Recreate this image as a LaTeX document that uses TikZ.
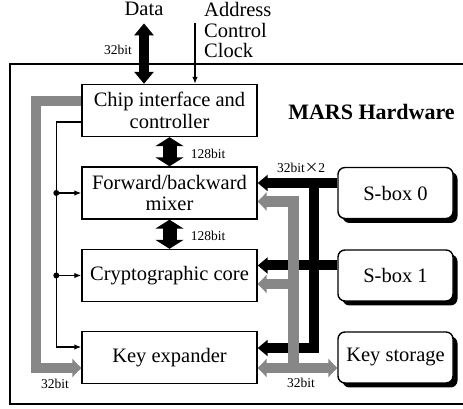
\documentclass[tikz,border=0pt]{standalone}
\usepackage{fontspec}
\setmainfont{Liberation Serif}
\newfontfamily\cjk{Noto Sans CJK JP}
\usepackage{xcolor}
\usetikzlibrary{arrows.meta,shadows}
\definecolor{gris}{gray}{0.53}

\begin{document}
\begin{tikzpicture}[x=1pt,y=1pt,
  bloque/.style={draw,line width=1.4pt,minimum width=175pt,minimum height=52pt,inner sep=0pt,align=center,font=\fontsize{20.5}{21.5}\selectfont},
  caja/.style={draw,line width=1.4pt,rounded corners=7pt,fill=white,minimum width=115pt,minimum height=51pt,inner sep=0pt,font=\fontsize{20.5}{21.5}\selectfont,
    drop shadow={shadow xshift=4.5pt,shadow yshift=-4.5pt,fill=black,opacity=1}},
  etiq/.style={font=\fontsize{13.5}{13.5}\selectfont,inner sep=0pt},
  bus/.style={line width=10pt,-{Triangle[length=10pt,width=16pt]}},
  busgris/.style={line width=10.5pt,draw=gris,-{Triangle[length=9pt,width=18pt]}},
  ancha/.style={line width=14pt,{Triangle[length=9pt,width=28pt]}-{Triangle[length=9pt,width=28pt]}},
  senal/.style={line width=1.3pt,-{Latex[length=7pt,width=5.5pt]}}]
        \useasboundingbox (0,0) rectangle (463,409);
        % marco exterior
        \draw[line width=1.4pt] (463.5,345) -| (10,5) -- (463.5,5);
        % bloques
        \node[bloque] (chip) at (169.5,298.5) {Chip interface and\\controller};
        \node[bloque] (mixer) at (169.5,216) {Forward/backward\\mixer};
        \node[bloque] (core) at (169.5,133.5) {Cryptographic core};
        \node[bloque] (keyexp) at (169.5,51.5) {Key expander};
        \node[caja] (sbox0) at (395.5,216) {S-box 0};
        \node[caja] (sbox1) at (395.5,133.5) {S-box 1};
        \node[caja] (keystore) at (395.5,51.5) {Key storage};
        \node[font=\bfseries\fontsize{22}{22}\selectfont] (titulo) at (371.5,297) {MARS Hardware};
        % entradas
        \node[anchor=base,inner sep=0pt,font=\fontsize{20.5}{20.5}\selectfont] (data) at (144,393) {Data};
        \node[anchor=north west,align=left,inner sep=0pt,font=\fontsize{20.5}{20.5}\selectfont] (ctrl) at (204,406.8) {Address\\Control\\Clock};
        \draw[line width=10pt,{Triangle[length=12pt,width=19pt]}-{Triangle[length=12pt,width=19pt]}] ([yshift=-7pt]data.south) -- (data.south |- chip.north);
        \node[etiq] (d32) at (118,359) {32bit};
        \coordinate (ent) at (195,386);
        \draw[senal] (ent) -- (ent |- chip.north);
        % buses de 128 bits
        \draw[ancha] (chip.south) -- (mixer.north);
        \node[etiq] (b1) at (208,255) {128bit};
        \draw[ancha] (mixer.south) -- (core.north);
        \node[etiq] (b2) at (208,173) {128bit};
        % lineas de control
        \draw[senal] ([yshift=-11.5pt]chip.west) -| ([xshift=-25pt,yshift=10.5pt]keyexp.west) -- ([yshift=10.5pt]keyexp.west);
        \coordinate (r1) at ([xshift=-25pt]mixer.west);
        \coordinate (r2) at ([xshift=-25pt]core.west);
        \fill (r1) circle [radius=3pt];
        \fill (r2) circle [radius=3pt];
        \draw[senal] (r1) -- (mixer.west);
        \draw[senal] (r2) -- (core.west);
        % bus negro de las S-box
        \draw[bus] ([yshift=10pt]sbox0.west) -- ([yshift=10pt]mixer.east);
        \draw[bus] ([xshift=56pt,yshift=10pt]mixer.east) |- ([yshift=9.5pt]keyexp.east);
        \draw[bus] ([yshift=10pt]sbox1.west) -- ([yshift=10pt]core.east);
        \node[etiq] (sb32) at (301,241) {32bit{\cjk ×}2};
        % bus gris de la clave
        \draw[busgris] ([yshift=9.5pt]chip.west) -| ([xshift=-45.5pt,yshift=-10.5pt]keyexp.west) -- ([yshift=-10.5pt]keyexp.west);
        \node[etiq] (k1) at (55,25) {32bit};
        \draw[busgris] ([xshift=36pt,yshift=-10.5pt]keyexp.east) |- ([yshift=-8.5pt]mixer.east);
        \draw[busgris] ([xshift=36pt,yshift=-8.5pt]core.east) -- ([yshift=-8.5pt]core.east);
        \draw[busgris,{Triangle[length=9pt,width=18pt]}-{Triangle[length=9pt,width=18pt]}] ([yshift=-10.5pt]keyexp.east) -- ([yshift=-10.5pt]keystore.west);
        \node[etiq] (k2) at (301,26) {32bit};
\end{tikzpicture}
\end{document}
